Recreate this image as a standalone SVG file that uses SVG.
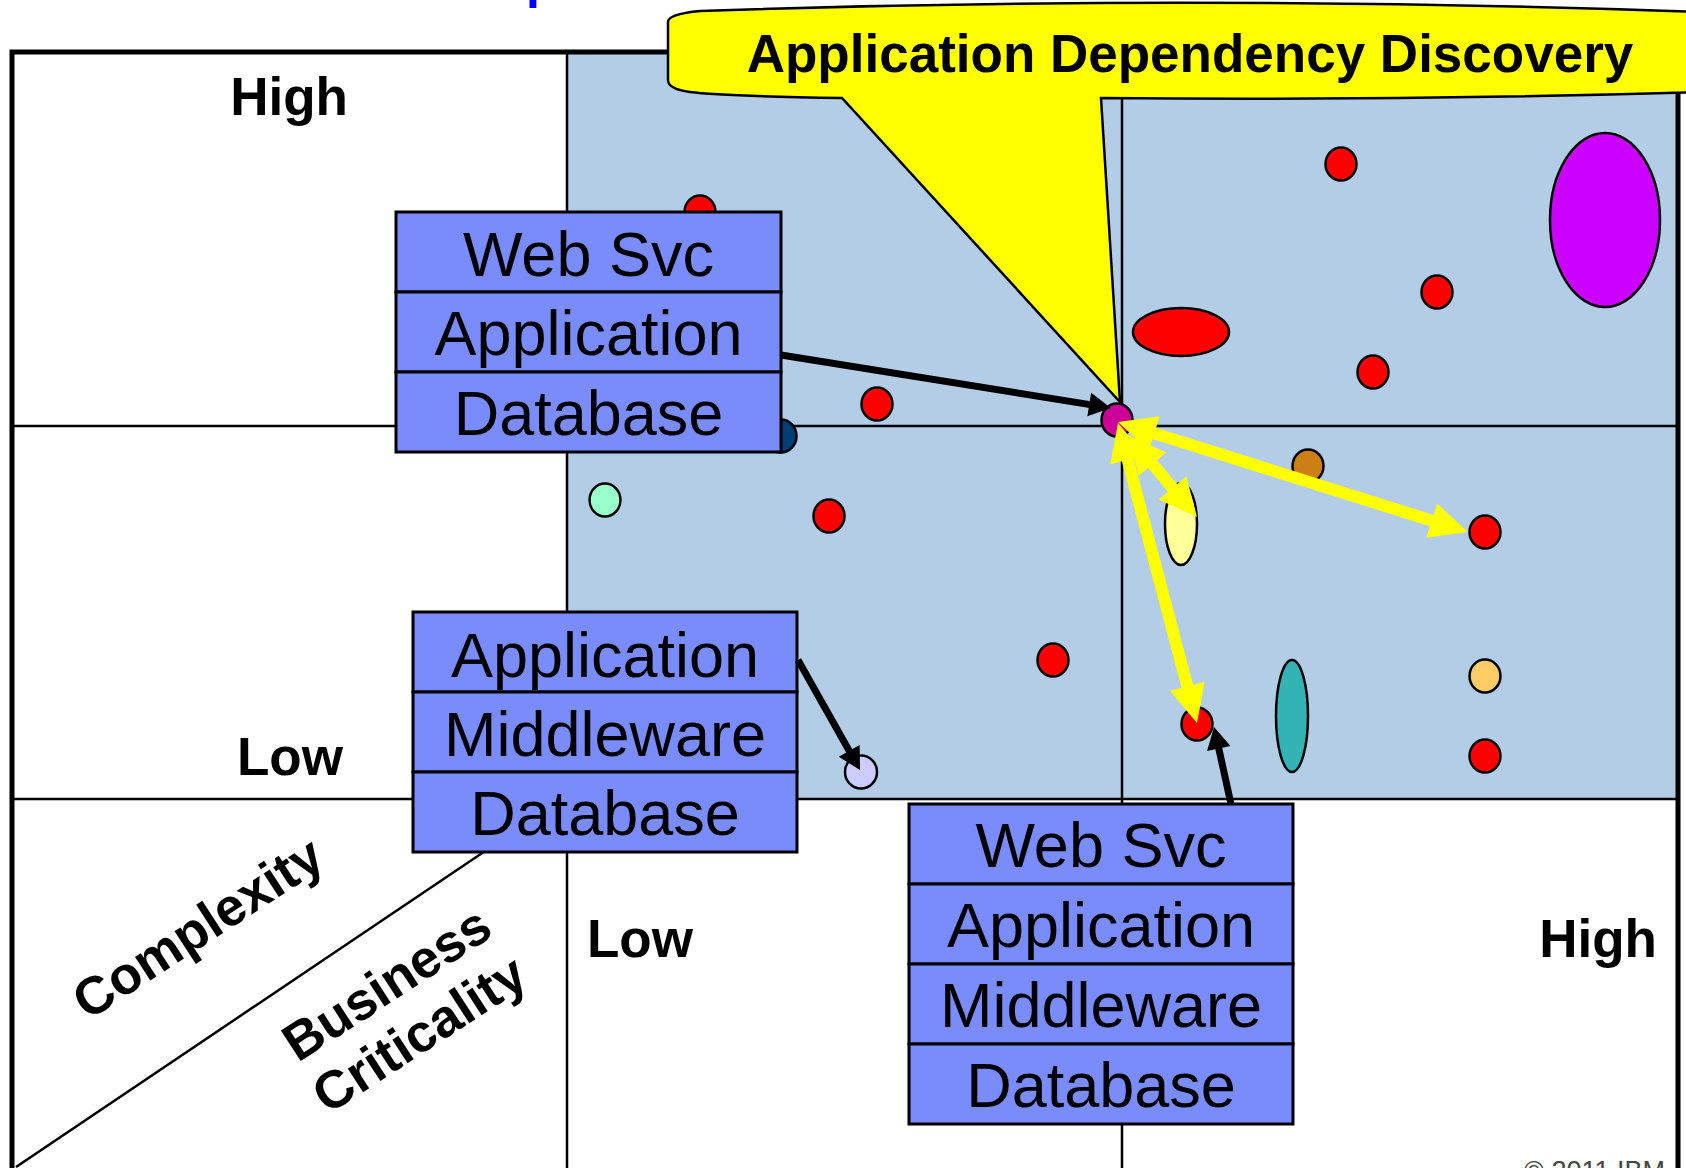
<svg xmlns="http://www.w3.org/2000/svg" width="1686" height="1168" viewBox="0 0 1686 1168">
<style>
.grid{stroke:#000;stroke-width:2.5;fill:none}
.frame{stroke:#000;stroke-width:5;fill:none}
.dot{stroke:#000;stroke-width:2.5}
.red{fill:#FF0000}
.lbl{font-family:"Liberation Sans",Arial,sans-serif;font-weight:bold;font-size:53px;fill:#000}
.box{fill:#7A8BFA;stroke:#000;stroke-width:3}
.bt{font-family:"Liberation Sans",Arial,sans-serif;font-size:63px;fill:#000;text-anchor:middle}
.blk{stroke:#000;stroke-width:7;fill:none}
.yel{stroke:#FFFF00;stroke-width:12;fill:none}
</style>
<defs>
<marker id="ah" markerUnits="userSpaceOnUse" markerWidth="22" markerHeight="24" refX="12" refY="12" orient="auto" overflow="visible">
<path d="M0,0 L22,12 L0,24 Z" fill="#000"/>
</marker>
<marker id="yh" markerUnits="userSpaceOnUse" markerWidth="38" markerHeight="36" refX="20" refY="18" orient="auto-start-reverse" overflow="visible">
<path d="M0,0 L38,18 L0,36 Z" fill="#FFFF00"/>
</marker>
</defs>
<rect x="0" y="0" width="1686" height="1168" fill="#FFFFFF"/>
<g id="grid">
<rect x="567" y="52" width="1111" height="747" fill="#B4CDE6"/>
<line class="grid" x1="12" y1="426" x2="1678" y2="426"/>
<line class="grid" x1="12" y1="799" x2="1678" y2="799"/>
<line class="grid" x1="567" y1="52" x2="567" y2="1168"/>
<line class="grid" x1="1122" y1="52" x2="1122" y2="1168"/>
<path class="frame" d="M12,1175 L12,52 L1678,52 L1678,1175"/>
<line x1="16" y1="1167" x2="500" y2="841" stroke="#000" stroke-width="2.5"/>
</g>
<text x="526" y="-2" font-family="Liberation Sans,Arial,sans-serif" font-weight="bold" font-size="50" fill="#0000FF">p</text>
<g id="labels">
<text class="lbl" x="289" y="115" text-anchor="middle">High</text>
<text class="lbl" x="290" y="775" text-anchor="middle">Low</text>
<text class="lbl" x="640" y="957" text-anchor="middle">Low</text>
<text class="lbl" x="1598" y="957" text-anchor="middle">High</text>
<g transform="translate(198,928) rotate(-33)">
<text class="lbl" x="0" y="18" text-anchor="middle">Complexity</text>
</g>
<g transform="translate(403,1009) rotate(-33)">
<text class="lbl" x="0" y="-12" text-anchor="middle">Business</text>
<text class="lbl" x="0" y="48" text-anchor="middle">Criticality</text>
</g>
<text x="1524" y="1180" font-family="Liberation Sans,Arial,sans-serif" font-size="27" fill="#444">© 2011 IBM</text>
</g>
<g id="dots">
<ellipse class="dot red" cx="1341" cy="164" rx="15.5" ry="16.5"/>
<ellipse class="dot red" cx="1437" cy="292" rx="15.5" ry="16.5"/>
<ellipse class="dot red" cx="1373" cy="372" rx="15.5" ry="16.5"/>
<ellipse class="dot red" cx="877" cy="404" rx="15.5" ry="16.5"/>
<ellipse class="dot red" cx="700" cy="212" rx="15.5" ry="16.5"/>
<ellipse class="dot red" cx="829" cy="516" rx="15.5" ry="16.5"/>
<ellipse class="dot red" cx="1485" cy="532" rx="15.5" ry="16.5"/>
<ellipse class="dot red" cx="1053" cy="660" rx="15.5" ry="16.5"/>
<ellipse class="dot red" cx="1197" cy="724" rx="15.5" ry="16.5"/>
<ellipse class="dot red" cx="1485" cy="756" rx="15.5" ry="16.5"/>
<ellipse class="dot red" cx="1181" cy="332" rx="48" ry="24"/>
<ellipse class="dot" cx="1605" cy="220" rx="55" ry="87" fill="#CC00FF"/>
<ellipse class="dot" cx="781" cy="436" rx="15.5" ry="16.5" fill="#003F73"/>
<ellipse class="dot" cx="605" cy="500" rx="15.5" ry="16.5" fill="#99FFCC"/>
<ellipse class="dot" cx="1308" cy="466" rx="15.5" ry="16.5" fill="#CC7F15"/>
<ellipse class="dot" cx="1181" cy="524" rx="16" ry="41" fill="#FFFF99"/>
<ellipse class="dot" cx="1292" cy="716" rx="16" ry="56" fill="#33B3B3"/>
<ellipse class="dot" cx="1485" cy="676" rx="15.5" ry="16.5" fill="#FFCC66"/>
<ellipse class="dot" cx="861" cy="772" rx="16" ry="16.5" fill="#CCCCFF"/>
<ellipse class="dot" cx="1117" cy="420" rx="15.5" ry="16.5" fill="#CC0099"/>
</g>
<g id="callout">
<path d="M1700,92 Q1400,101 1101,98 L1120,402 L842,98 Q720,96 690,92 Q668,89 668,80 L668,22 Q668,14 700,11 Q1190,-6 1700,12 Z" fill="#FFFF00" stroke="#000" stroke-width="2.5"/>
<text class="lbl" x="1190" y="72" text-anchor="middle" font-size="55.5px">Application Dependency Discovery</text>
</g>
<g id="stack1">
<rect class="box" x="396" y="212" width="385" height="80"/>
<rect class="box" x="396" y="292" width="385" height="80"/>
<rect class="box" x="396" y="372" width="385" height="80"/>
<text class="bt" x="588.5" y="276">Web Svc</text>
<text class="bt" x="588.5" y="355">Application</text>
<text class="bt" x="588.5" y="435">Database</text>
</g>
<g id="stack2">
<rect class="box" x="413" y="612" width="384" height="80"/>
<rect class="box" x="413" y="692" width="384" height="80"/>
<rect class="box" x="413" y="772" width="384" height="80"/>
<text class="bt" x="605" y="677">Application</text>
<text class="bt" x="605" y="756">Middleware</text>
<text class="bt" x="605" y="835">Database</text>
</g>
<g id="stack3">
<rect class="box" x="909" y="804" width="384" height="80"/>
<rect class="box" x="909" y="884" width="384" height="80"/>
<rect class="box" x="909" y="964" width="384" height="80"/>
<rect class="box" x="909" y="1044" width="384" height="80"/>
<text class="bt" x="1101" y="867">Web Svc</text>
<text class="bt" x="1101" y="947">Application</text>
<text class="bt" x="1101" y="1027">Middleware</text>
<text class="bt" x="1101" y="1107">Database</text>
</g>
<g id="connectors">
<line class="blk" x1="781" y1="355" x2="1101.1" y2="406.4" marker-end="url(#ah)"/>
<line class="blk" x1="798" y1="660" x2="855.1" y2="761.3" marker-end="url(#ah)"/>
<line class="blk" x1="1231" y1="804" x2="1216.2" y2="736.8" marker-end="url(#ah)"/>
<line class="yel" x1="1135.2" y1="427.4" x2="1450.8" y2="526.6" marker-start="url(#yh)" marker-end="url(#yh)"/>
<line class="yel" x1="1139.6" y1="448.8" x2="1185.4" y2="503.2" marker-start="url(#yh)" marker-end="url(#yh)"/>
<line class="yel" x1="1122.6" y1="440.4" x2="1192.4" y2="705.6" marker-start="url(#yh)" marker-end="url(#yh)"/>
</g>
</svg>
